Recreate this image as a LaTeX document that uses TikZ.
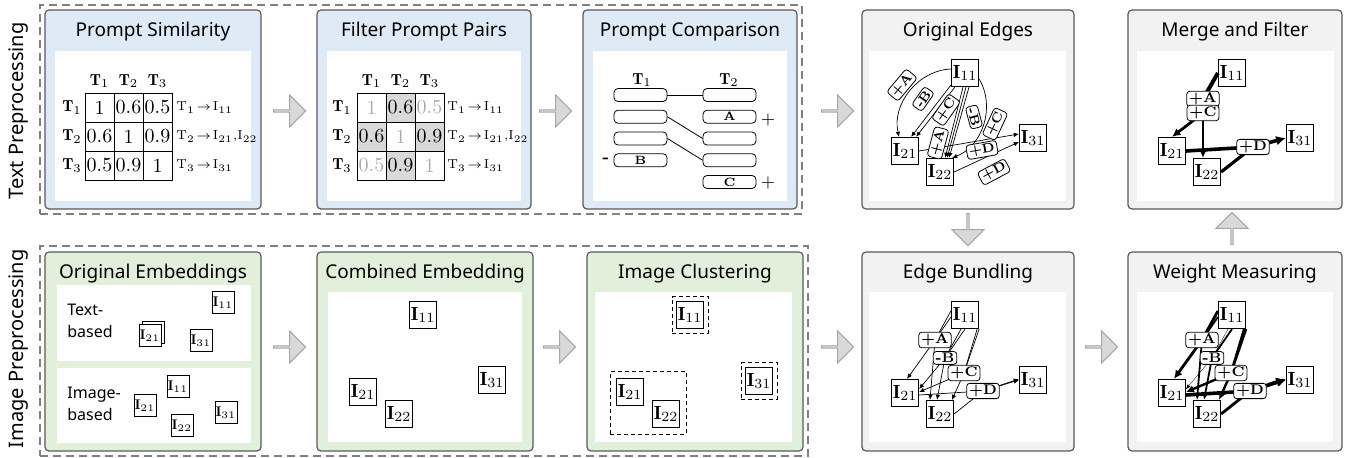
\documentclass[tikz,border=0pt]{standalone}
\usepackage{fontspec}
\newfontfamily\headfont{Noto Sans}
\usetikzlibrary{arrows.meta, shapes.arrows, fit, positioning}

\definecolor{bluepanel}{HTML}{DEEBF7}
\definecolor{greenpanel}{HTML}{E2EFDA}
\definecolor{graypanel}{HTML}{F2F2F2}
\definecolor{framegray}{HTML}{595959}
\definecolor{dashgray}{HTML}{808080}
\definecolor{cellgray}{HTML}{D9D9D9}
\definecolor{fadetext}{HTML}{ABABAB}
\definecolor{flowfill}{HTML}{D9D9D9}
\definecolor{flowdraw}{HTML}{A6A6A6}

\begin{document}
\begin{tikzpicture}
[x=0.5pt, y=-0.5pt, inner sep=0.5pt,
panel/.style={draw=framegray, line width=0.6pt, rounded corners=2pt, inner sep=0pt},
inbox/.style={fill=white, inner sep=0pt},
ttl/.style={font=\headfont\fontsize{9.5}{11}\selectfont, text=black},
rowname/.style={rotate=90, font=\headfont\fontsize{10}{12}\selectfont},
stage/.style={draw=dashgray, dash pattern=on 4pt off 2.5pt, line width=0.6pt, inner sep=0pt},
flow/.style={single arrow, draw=flowdraw, fill=flowfill, minimum height=16pt, minimum width=16pt, single arrow head extend=3pt, inner sep=0pt, line width=0.5pt},
cell/.style={draw, minimum size=14.5pt, inner sep=0pt, font=\fontsize{10}{12}\selectfont},
hdr/.style={font=\fontsize{8}{9}\selectfont},
map/.style={anchor=west, font=\fontsize{6.5}{8}\selectfont},
pbox/.style={draw, rounded corners=2pt, fill=white, minimum width=26.5pt, minimum height=6.5pt, inner sep=0pt, font=\fontsize{6}{6}\selectfont\bfseries},
sign/.style={font=\fontsize{8}{9}\selectfont\bfseries},
subtxt/.style={anchor=west, align=left, font=\headfont\fontsize{8}{11}\selectfont},
sbox/.style={draw, fill=white, minimum size=11pt, inner sep=0pt, line width=0.5pt, font=\fontsize{7}{8}\selectfont},
gbox/.style={draw, fill=white, minimum size=13.5pt, inner sep=0pt, line width=0.6pt, font=\fontsize{9.5}{10}\selectfont},
clus/.style={draw, dash pattern=on 2pt off 1.5pt, line width=0.4pt, inner sep=2pt},
link/.style={line width=0.35pt, -{Latex[length=2pt 1.6, width=1.6pt 1.8]}},
elabel/.style={draw, rounded corners=1.5pt, fill=white, inner xsep=1.2pt, inner ysep=0.8pt, font=\fontsize{7}{7}\selectfont\bfseries}
]

\useasboundingbox (0,0) rectangle (1351,458);

% stages
\node[stage, fit={(40,5) (802,214)}] (tstage) {};
\node[stage, fit={(40,246) (808,456)}] (istage) {};
\node[rowname] (tname) at (19,111) {Text Preprocessing};
\node[rowname] (iname) at (19,349) {Image Preprocessing};

% panels
\foreach \nm/\xa/\xb/\ya/\yb/\col/\txt in {
  ps/45/261/10/209/bluepanel/Prompt Similarity,
  fp/317/531/10/209/bluepanel/Filter Prompt Pairs,
  pc/583/797/10/209/bluepanel/Prompt Comparison,
  oe/862/1074/10/209/graypanel/Original Edges,
  mf/1128/1342/10/209/graypanel/Merge and Filter,
  em/45/261/252/451/greenpanel/Original Embeddings,
  ce/317/533/252/451/greenpanel/Combined Embedding,
  ic/587/803/252/451/greenpanel/Image Clustering,
  eb/862/1074/252/451/graypanel/Edge Bundling,
  wm/1128/1342/252/451/graypanel/Weight Measuring}
{
  \node[panel, fill=\col, fit={(\xa,\ya) (\xb,\yb)}] (\nm) {};
  \node[ttl] (\nm-ttl) at ({(\xa+\xb)/2},{\ya+22}) {\txt};
}
\foreach \nm/\xa/\xb in {ps/55/251, fp/327/521, pc/593/787, oe/869/1066, mf/1137/1334}
  \node[inbox, fit={(\xa,51) (\xb,201)}] (\nm-in) {};
\foreach \nm/\xa/\xb in {ce/328/522, ic/595/792, eb/869/1066, wm/1137/1333}
  \node[inbox, fit={(\xa,292) (\xb,442)}] (\nm-in) {};
\node[inbox, fit={(57,285) (251,361)}] (em-in1) {};
\node[inbox, fit={(57,368) (251,443)}] (em-in2) {};

% flow arrows
\path
  node[flow] (f1) at (289,111) {}
  node[flow] (f2) at (555,111) {}
  node[flow] (f3) at (837,111) {}
  node[flow, shape border rotate=270] (f4) at (968,229) {}
  node[flow, shape border rotate=90] (f5) at (1232,229) {}
  node[flow] (f6) at (289,347) {}
  node[flow] (f7) at (559,347) {}
  node[flow] (f8) at (837,347) {}
  node[flow] (f9) at (1101,347) {};

% prompt similarity
\foreach \val [count=\k from 0] in {1,0.6,0.5,0.6,1,0.9,0.5,0.9,1}
{
  \pgfmathtruncatemacro{\rr}{int(\k/3)+1}
  \pgfmathtruncatemacro{\cc}{mod(\k,3)+1}
  \node[cell] (ps\rr\cc) at ({70.5+29*\cc},{78.5+29*\rr}) {\val};
}
\foreach \i in {1,2,3}
{
  \node[hdr] (psh\i) at ({70.5+29*\i},81) {$\mathbf{T}_{\i}$};
  \node[hdr] (psv\i) at (72,{78.5+29*\i}) {$\mathbf{T}_{\i}$};
}
\node[map] (psm1) at (175,107.5) {$\mathrm{T}_1\!\to\!\mathrm{I}_{11}$};
\node[map] (psm2) at (175,136.5) {$\mathrm{T}_2\!\to\!\mathrm{I}_{21}\mathrm{,}\mathrm{I}_{22}$};
\node[map] (psm3) at (175,165.5) {$\mathrm{T}_3\!\to\!\mathrm{I}_{31}$};

% filter prompt pairs
\foreach \val/\fc/\tc [count=\k from 0] in {1/white/fadetext, 0.6/cellgray/black, 0.5/white/fadetext,
  0.6/cellgray/black, 1/white/fadetext, 0.9/cellgray/black, 0.5/white/fadetext, 0.9/cellgray/black, 1/white/fadetext}
{
  \pgfmathtruncatemacro{\rr}{int(\k/3)+1}
  \pgfmathtruncatemacro{\cc}{mod(\k,3)+1}
  \node[cell, fill=\fc, text=\tc] (fp\rr\cc) at ({342.5+29*\cc},{78.5+29*\rr}) {\val};
}
\foreach \i in {1,2,3}
{
  \node[hdr] (fph\i) at ({342.5+29*\i},81) {$\mathbf{T}_{\i}$};
  \node[hdr] (fpv\i) at (342,{78.5+29*\i}) {$\mathbf{T}_{\i}$};
}
\node[map] (fpm1) at (446,107.5) {$\mathrm{T}_1\!\to\!\mathrm{I}_{11}$};
\node[map] (fpm2) at (446,136.5) {$\mathrm{T}_2\!\to\!\mathrm{I}_{21}\mathrm{,}\mathrm{I}_{22}$};
\node[map] (fpm3) at (446,165.5) {$\mathrm{T}_3\!\to\!\mathrm{I}_{31}$};

% prompt comparison
\node[hdr] (pch1) at (642,80) {$\mathbf{T}_1$};
\node[hdr] (pch2) at (729,80) {$\mathbf{T}_2$};
\foreach \t [count=\i] in {{},{},{},B}
  \node[pbox] (pcl\i) at (640.5,{73.25+21.75*\i}) {\t};
\foreach \t [count=\i] in {{},A,{},{},C}
  \node[pbox] (pcr\i) at (729.5,{73.25+21.75*\i}) {\t};
\draw[line width=0.4pt] (pcl1) -- (pcr1);
\draw[line width=0.4pt] (pcl2.east) -- (pcr3.west);
\draw[line width=0.4pt] (pcl3.east) -- (pcr4.west);
\node[sign] (pcm) at (606,160) {-};
\node[sign, font=\fontsize{9}{9}\selectfont] (pcp1) at (768,120) {+};
\node[sign, font=\fontsize{9}{9}\selectfont] (pcp2) at (768,183) {+};

% original embeddings
\node[subtxt] (em-t1) at (66,321) {Text-\\based};
\node[subtxt] (em-t2) at (66,404) {Image-\\based};
\path
  node[sbox] (em-a11) at (223,303) {$\mathbf{I}_{11}$}
  node[sbox] (em-a21b) at (153,333) {}
  node[sbox] (em-a21) at (150,336) {$\mathbf{I}_{21}$}
  node[sbox] (em-a31) at (201,341) {$\mathbf{I}_{31}$}
  node[sbox] (em-b11) at (178,387) {$\mathbf{I}_{11}$}
  node[sbox] (em-b21) at (145,406) {$\mathbf{I}_{21}$}
  node[sbox] (em-b22) at (182,426) {$\mathbf{I}_{22}$}
  node[sbox] (em-b31) at (226,413) {$\mathbf{I}_{31}$};

% combined embedding
\path
  node[gbox] (ce11) at (423,315) {$\mathbf{I}_{11}$}
  node[gbox] (ce21) at (363,392) {$\mathbf{I}_{21}$}
  node[gbox] (ce22) at (399,414) {$\mathbf{I}_{22}$}
  node[gbox] (ce31) at (492,380) {$\mathbf{I}_{31}$};

% image clustering
\path
  node[gbox] (ic11) at (690,315) {$\mathbf{I}_{11}$}
  node[gbox] (ic21) at (630,392) {$\mathbf{I}_{21}$}
  node[gbox] (ic22) at (666,414) {$\mathbf{I}_{22}$}
  node[gbox] (ic31) at (759,381) {$\mathbf{I}_{31}$};
\node[clus, fit=(ic11)] (icg1) {};
\node[clus, fit=(ic21) (ic22), inner sep=3pt] (icg2) {};
\node[clus, fit=(ic31)] (icg3) {};

% original edges
\begin{scope}[shift={(965,73)}, elabel/.append style={font=\fontsize{6.5}{6.5}\selectfont\bfseries}]
\path
  node[gbox] (oe11) at (0,0) {$\mathbf{I}_{11}$}
  node[gbox] (oe21) at (-60,78) {$\mathbf{I}_{21}$}
  node[gbox] (oe22) at (-25,99) {$\mathbf{I}_{22}$}
  node[gbox] (oe31) at (68,65) {$\mathbf{I}_{31}$};
\draw[link] ([yshift=2pt]oe11.west) to[bend right=50] ([xshift=-3pt]oe21.north);
\draw[link] ([yshift=1pt]oe11.south west) -- ([xshift=-4pt]oe21.north east);
\draw[link] ([xshift=2pt]oe11.south west) -- ([xshift=-1.5pt]oe21.north east);
\draw[link] ([xshift=-1pt]oe11.south) -- ([xshift=-4.5pt]oe22.north east);
\draw[link] ([xshift=0.5pt]oe11.south) -- ([xshift=-3.5pt]oe22.north east);
\draw[link] ([xshift=2pt]oe11.south) -- ([xshift=-2.5pt]oe22.north east);
\draw[link] ([yshift=-3pt]oe11.east) to[bend left=50] ([xshift=-1pt]oe22.north east);
\draw[link] (oe21.east) -- ([yshift=2pt]oe31.west);
\draw[link] (oe22.east) -- ([yshift=-2pt]oe31.west);
\path
  node[elabel, rotate=50] (oeA1) at (-63,12) {+A}
  node[elabel, rotate=55] (oeB1) at (-42,26) {-B}
  node[elabel, rotate=55] (oeC1) at (-19,37) {+C}
  node[elabel, rotate=75] (oeA2) at (-27,70) {+A}
  node[elabel, rotate=-75] (oeB2) at (9,44) {-B}
  node[elabel, rotate=65] (oeC2) at (30,51) {+C}
  node[elabel, rotate=10] (oeD1) at (17,77) {+D}
  node[elabel, rotate=28] (oeD2) at (29,99) {+D};
\end{scope}

% edge bundling
\begin{scope}[shift={(965,315)}]
\path
  node[gbox] (eb11) at (0,0) {$\mathbf{I}_{11}$}
  node[gbox] (eb21) at (-60,78) {$\mathbf{I}_{21}$}
  node[gbox] (eb22) at (-25,99) {$\mathbf{I}_{22}$}
  node[gbox] (eb31) at (68,65) {$\mathbf{I}_{31}$}
  coordinate (ebA) at (-30,25)
  coordinate (ebB) at (-20,43)
  coordinate (ebC) at (-1,58)
  coordinate (ebD) at (18,76);
\draw[link] ([yshift=2pt]eb11.west) -- (ebA) -- ([xshift=1pt]eb21.north);
\draw[link] ([yshift=-1pt]eb11.west) -- (ebA) -- ([xshift=-5pt]eb22.north);
\draw[link] ([xshift=-2pt]eb11.south) -- (ebB) -- ([yshift=2pt]eb21.east);
\draw[link] (eb11.south) -- (ebB) -- ([xshift=-1.5pt]eb22.north);
\draw[link] ([xshift=-1pt]eb11.south east) -- (ebC) -- ([yshift=0.5pt]eb21.east);
\draw[link] (eb11.south east) -- (ebC) -- ([xshift=6pt]eb22.north);
\draw[link] ([yshift=-1pt]eb21.east) -- (ebD) -- ([yshift=0.5pt]eb31.west);
\draw[link] (eb22.east) -- (ebD) -- (eb31.west);
\path
  node[elabel] (ebA-l) at (ebA) {+A}
  node[elabel] (ebB-l) at (ebB) {-B}
  node[elabel] (ebC-l) at (ebC) {+C}
  node[elabel] (ebD-l) at (ebD) {+D};
\end{scope}

% weight measuring
\begin{scope}[shift={(1232,315)}]
\path
  node[gbox] (wm11) at (0,0) {$\mathbf{I}_{11}$}
  node[gbox] (wm21) at (-60,78) {$\mathbf{I}_{21}$}
  node[gbox] (wm22) at (-25,99) {$\mathbf{I}_{22}$}
  node[gbox] (wm31) at (68,65) {$\mathbf{I}_{31}$}
  coordinate (wmA) at (-30,25)
  coordinate (wmB) at (-20,43)
  coordinate (wmC) at (-1,58)
  coordinate (wmD) at (18,76);
\draw[link, line width=1.4pt] ([yshift=2pt]wm11.west) -- (wmA) -- ([xshift=1pt]wm21.north);
\draw[link, line width=0.9pt] ([yshift=-1pt]wm11.west) -- (wmA) -- ([xshift=-5pt]wm22.north);
\draw[link, line width=0.15pt] ([xshift=-2pt]wm11.south) -- (wmB) -- ([yshift=2pt]wm21.east);
\draw[link, line width=0.9pt] (wm11.south) -- (wmB) -- ([xshift=-1.5pt]wm22.north);
\draw[link, line width=1.2pt] ([xshift=-1pt]wm11.south east) -- (wmC) -- ([yshift=0.5pt]wm21.east);
\draw[link, line width=1.2pt] (wm11.south east) -- (wmC) -- ([xshift=6pt]wm22.north);
\draw[link, line width=1.8pt] ([yshift=-1pt]wm21.east) -- (wmD) -- ([yshift=0.5pt]wm31.west);
\draw[link, line width=1.4pt] (wm22.east) -- (wmD) -- (wm31.west);
\path
  node[elabel] (wmA-l) at (wmA) {+A}
  node[elabel] (wmB-l) at (wmB) {-B}
  node[elabel] (wmC-l) at (wmC) {+C}
  node[elabel] (wmD-l) at (wmD) {+D};
\end{scope}

% merge and filter
\begin{scope}[shift={(1232,73)}]
\path
  node[gbox] (mf11) at (0,0) {$\mathbf{I}_{11}$}
  node[gbox] (mf21) at (-60,78) {$\mathbf{I}_{21}$}
  node[gbox] (mf22) at (-25,99) {$\mathbf{I}_{22}$}
  node[gbox] (mf31) at (68,65) {$\mathbf{I}_{31}$}
  coordinate (mfA) at (-29,26)
  coordinate (mfC) at (-29,40)
  coordinate (mfD) at (21,74);
\draw[line width=2pt] (mf11.west) -- (mfA);
\draw[link, line width=1.4pt] (mfC) -- (mf21.north);
\draw[link, line width=0.9pt] (mfC) -- ([xshift=-2pt]mf22.north);
\draw[link, line width=1.8pt] (mf21.east) -- (mfD) -- (mf31.west);
\draw[line width=1.6pt] (mf22.east) -- (mfD);
\path
  node[elabel] (mfA-l) at (mfA) {+A}
  node[elabel] (mfC-l) at (mfC) {+C}
  node[elabel] (mfD-l) at (mfD) {+D};
\end{scope}

\end{tikzpicture}
\end{document}
